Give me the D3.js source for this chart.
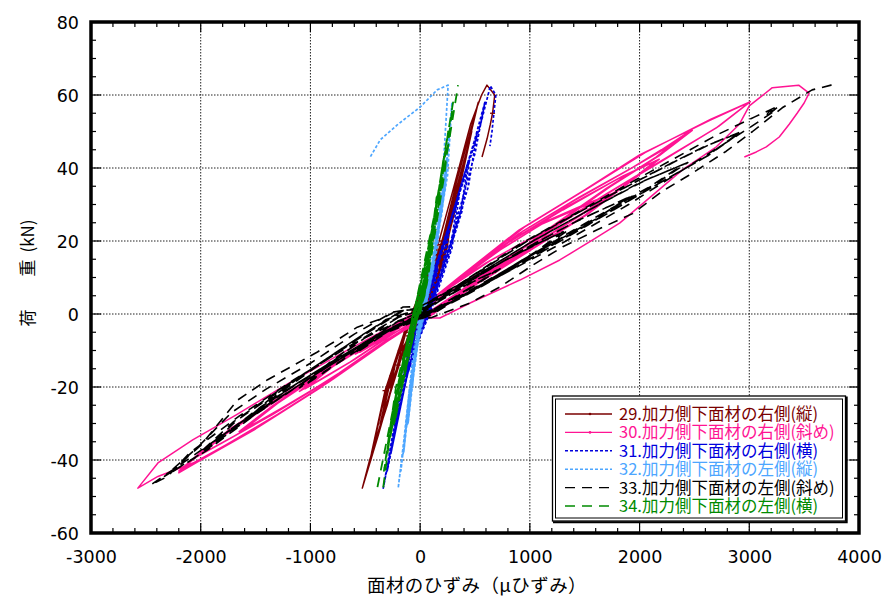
<!DOCTYPE html>
<html><head><meta charset="utf-8">
<script src="https://cdn.jsdelivr.net/npm/d3@7"></script>
<style>body{margin:0;background:#fff}svg{display:block}</style>
</head><body>
<script>
// ---------- data ----------
const xTickValues = [-3000,-2000,-1000,0,1000,2000,3000,4000];
const yTickValues = [-60,-40,-20,0,20,40,60,80];
const xTitle = "面材のひずみ（μひずみ）";
const yTitleParts = ["荷", "重", "(kN)"];
const seriesNames = [
  "29.加力側下面材の右側(縦)",
  "30.加力側下面材の右側(斜め)",
  "31.加力側下面材の右側(横)",
  "32.加力側下面材の左側(縦)",
  "33.加力側下面材の左側(斜め)",
  "34.加力側下面材の左側(横)"
];
// [strain (μ), load (kN)]
const s29 = [[0,0],[70,6],[125,12],[95,6],[20,0],[-60,-4],[-180,-10.5],[-130,-5],[-50,0],
 [60,6],[130,12.3],[100,6],[20,0],[-70,-4.5],[-185,-10.8],[-130,-5],[-40,0],
 [100,11],[225,22.5],[170,12],[40,0],[-110,-6],[-270,-20],[-200,-10],[-60,0],
 [110,11.5],[230,22.8],[175,12],[40,0],[-120,-7],[-275,-20.2],[-200,-10],[-50,0],
 [150,14],[310,32],[240,18],[60,0],[-130,-8],[-360,-30],[-260,-17],[-80,0],
 [160,15],[315,32.3],[245,18],[60,0],[-140,-9],[-365,-30.2],[-260,-16],[-70,0],
 [180,18],[400,42],[310,28],[90,2],[-140,-9],[-440,-38],[-320,-22],[-110,-2],
 [190,19],[405,42.3],[315,28],[90,1],[-150,-10],[-445,-38.3],[-320,-21],[-100,-1],
 [180,16],[340,35],[470,50],[370,36],[150,12],[-60,-2],[-260,-20],[-480,-43],[-350,-26],[-150,-6],
 [200,20],[330,36],[530,58],[420,44],[220,20],[0,0],[-200,-14],[-380,-33],[-527,-47.7],[-460,-40],[-300,-25],[-118,-3.6],
 [100,12],[300,34],[460,52],[560,60],[609,62.7],[680,60],[660,55],[640,52],[610,48],[564,43]];
const s30 = [[0,0],[150,4],[350,8],[600,12],[450,8],[250,4],[50,0],[-150,-3],[-350,-7],[-550,-10.5],[-400,-7.5],[-200,-3.5],[0,0.5],
 [180,4.6],[400,9],[640,12.5],[470,8.3],[260,4.1],[60,0.1],[-170,-3.4],[-380,-7.5],[-590,-11],[-420,-7.6],[-210,-3.3],[10,0.4],
 [250,7],[600,14],[900,19],[1150,22.5],[950,17],[650,11],[300,4.5],[50,0],[-250,-5.5],[-600,-12.5],[-850,-17],[-1050,-20.5],[-800,-14.5],[-450,-8],[-150,-2],[50,1],
 [280,7.4],[640,14.6],[950,19.8],[1200,23],[980,17.4],[680,11.2],[320,4.6],[60,-0.2],[-270,-5.8],[-640,-13.2],[-900,-17.8],[-1100,-21.2],[-840,-15],[-470,-8.2],[-160,-2.1],[40,0.8],
 [300,8],[700,17],[1100,24.5],[1450,29],[1750,33],[1500,27],[1100,19.5],[650,11],[250,3.5],[50,-0.5],[-300,-7],[-700,-15.5],[-1100,-23],[-1450,-29],[-1600,-31.5],[-1300,-24.5],[-900,-16.5],[-500,-8.5],[-150,-1.5],[50,1],
 [320,8.6],[740,17.8],[1150,25.4],[1500,30],[1800,33.6],[1540,27.6],[1130,19.8],[670,11.1],[260,3.4],[60,-0.6],[-320,-7.4],[-740,-16.2],[-1150,-24],[-1500,-30],[-1650,-32.2],[-1340,-25],[-930,-16.8],[-520,-8.7],[-160,-1.6],[40,0.9],
 [300,8.5],[800,19.5],[1300,28.5],[1800,37],[2150,42],[1850,35],[1400,26],[900,16.5],[400,6],[80,-0.5],[-300,-7],[-800,-17.5],[-1300,-26.5],[-1700,-33.5],[-2000,-38.5],[-1700,-31],[-1200,-21.5],[-700,-12],[-250,-3.5],[50,1],
 [320,9],[840,20.4],[1350,29.6],[1850,37.8],[2180,42.4],[1880,35.4],[1430,26.4],[920,16.7],[420,6.2],[90,-0.6],[-320,-7.4],[-840,-18.3],[-1350,-27.6],[-1750,-34.4],[-2040,-39.2],[-1730,-31.4],[-1230,-21.8],[-720,-12.2],[-260,-3.6],[40,0.9],
 [350,9.5],[900,22],[1400,31],[1900,39.5],[2200,45],[2450,50],[2150,43],[1700,34.5],[1200,24],[700,13],[250,3.5],[50,-0.5],[-300,-7.5],[-800,-18],[-1300,-27.5],[-1750,-35.5],[-2180,-42.7],[-1900,-35.5],[-1400,-25.5],[-900,-16],[-400,-6.5],[-50,0.5],
 [370,10],[940,22.8],[1450,32],[1950,40.4],[2250,45.6],[2480,50.3],[2180,43.4],[1730,34.8],[1230,24.3],[720,13.2],[260,3.4],[60,-0.6],[-320,-7.8],[-830,-18.6],[-1340,-28.3],[-1790,-36.2],[-2200,-43],[-1920,-35.8],[-1420,-25.8],[-920,-16.2],[-410,-6.6],[-40,0.5],
 [350,10],[900,23],[1500,34],[2000,43.6],[2636,53],[3000,58],[2700,51],[2200,42],[1700,33],[1200,23.5],[600,11.5],[150,1.5],[-300,-7.5],[-900,-20],[-1500,-31.5],[-2000,-40],[-2200,-43.5],[-1950,-36.5],[-1450,-26.5],[-950,-17],[-450,-7.2],[-60,0.3],
 [380,10.4],[950,23.8],[1550,34.8],[2050,44.2],[2650,53.4],[3010,58.2],[2720,51.4],[2230,42.4],[1730,33.4],[1230,23.8],[620,11.6],[160,1.4],[-300,-7.5],[-900,-20],[-1500,-31.5],[-2000,-40],[-2390,-44.5],[-2573,-47.7],[-2390,-40.8],[-2073,-34.5],[-1680,-27.7],[-1200,-19],[-700,-10.5],[-300,-4],[-50,-1],
 [180,-1.1],[455,3],[909,9.3],[1273,14.8],[1573,20.3],[1818,24.9],[2090,31.8],[2390,39.5],[2700,45.8],[2910,52],[3000,57],[3210,62],[3450,62.7],[3545,60.5],[3500,57.8],[3436,55],[3364,52],[3273,48.5],[3155,45.8],[3064,44.4],[2955,43]];
const s31 = [[0,0],[80,6],[150,12],[110,6],[40,0],[-30,-5],[-75,-10.5],[-40,-5],[20,0],
 [90,6],[160,12.3],[120,6],[40,0],[-35,-5],[-80,-10.8],[-40,-5],[20,0],
 [130,11],[250,22.5],[200,12],[70,0],[-60,-9],[-140,-20],[-90,-10],[10,0],
 [140,11.5],[265,22.8],[205,12],[70,0],[-65,-9.5],[-145,-20.2],[-95,-10],[10,0],
 [150,13],[340,32],[280,18],[100,2],[-30,-8],[-120,-17],[-215,-30],[-150,-18],[-20,0],
 [160,14],[355,32.3],[290,18],[100,1],[-40,-9],[-130,-18],[-220,-30.2],[-150,-17],[-20,0],
 [200,18],[440,42],[370,28],[180,10],[30,-1],[-100,-14],[-265,-38],[-180,-22],[-30,0],
 [210,19],[450,42.3],[380,28],[180,9],[30,-2],[-110,-15],[-270,-38.3],[-180,-21],[-30,0],
 [200,18],[390,37],[520,50],[440,35],[230,14],[40,-1],[-120,-17],[-300,-43],[-210,-26],[-50,-1],
 [180,16],[400,37],[590,58],[500,44],[280,20],[60,0],[-120,-17],[-240,-33],[-336,-47.7],[-250,-33],[-80,-6],
 [150,14],[380,35],[560,53],[640,62.5],[690,60],[672,55],[655,50],[636,46]];
const s32 = [[0,0],[50,6],[95,12],[70,6],[15,0],[-20,-5],[-40,-10.5],[-20,-5],[25,0],
 [55,6],[100,12.3],[75,6],[15,0],[-20,-5],[-45,-10.8],[-20,-5],[25,0],
 [95,11],[150,22.5],[115,12],[35,0],[-40,-9],[-70,-20],[-40,-10],[25,0],
 [100,11.5],[160,22.8],[120,12],[35,0],[-40,-9.5],[-75,-20.2],[-40,-10],[25,0],
 [120,14],[195,32],[150,18],[45,2],[-20,-8],[-60,-17],[-110,-30],[-70,-18],[15,0],
 [125,15],[205,32.3],[155,18],[45,1],[-25,-9],[-65,-18],[-115,-30.2],[-70,-17],[15,0],
 [140,18],[240,42],[195,28],[90,10],[0,-1],[-60,-14],[-150,-38],[-100,-22],[5,0],
 [145,19],[250,42.3],[200,28],[90,9],[0,-2],[-65,-15],[-155,-38.3],[-100,-21],[5,0],
 [140,18],[230,35],[265,50],[225,38],[125,16],[15,0],[-80,-17],[-175,-43],[-120,-28],[-20,-2],
 [140,18],[250,38],[290,58],[255,45],[150,20],[25,0],[-70,-17],[-140,-33],[-200,-47.7],[-150,-35],[-60,-10],
 [70,10],[200,35],[255,62.7],[155,61.4],[0,56.7],[-209,51.8],[-364,47.7],[-455,43]];
const s33 = [[0,0],[200,4],[450,8.5],[700,12],[500,8],[250,3.5],[50,0],[-200,-3],[-400,-7],[-550,-10],[-400,-6],[-200,-2],[0,0.5],
 [220,4.3],[480,8.8],[730,12.4],[520,8.2],[270,3.6],[60,-0.1],[-220,-3.3],[-430,-7.3],[-580,-10.4],[-420,-6.2],[-210,-2],[10,0.5],
 [300,6.5],[700,13.5],[1050,19],[1300,22.5],[1050,17],[700,10.5],[350,4.5],[50,0],[-250,-4],[-600,-10.5],[-850,-15.5],[-1050,-19.5],[-800,-13],[-500,-6.5],[-200,-1],[0,1],
 [320,6.8],[740,14.1],[1100,19.7],[1350,23],[1080,17.3],[720,10.6],[360,4.4],[60,-0.2],[-270,-4.3],[-640,-11.2],[-900,-16.3],[-1100,-20.2],[-830,-13.4],[-520,-6.6],[-210,-1],[10,1],
 [400,8],[900,17],[1400,25],[1900,32],[1600,26],[1100,17.5],[600,9],[200,2],[0,0],[-350,-5],[-800,-13],[-1200,-20.5],[-1550,-28.5],[-1300,-22],[-900,-13.5],[-500,-5.5],[-150,1],[50,1.5],
 [420,8.4],[940,17.7],[1450,25.8],[1950,32.6],[1640,26.5],[1130,17.8],[620,9.1],[210,2],[10,-0.1],[-370,-5.4],[-840,-13.7],[-1250,-21.4],[-1600,-29.3],[-1340,-22.5],[-930,-13.8],[-520,-5.6],[-160,1],[40,1.4],
 [400,8.5],[1000,19.5],[1600,29.5],[2000,36],[2400,41],[2100,35],[1600,26.5],[1000,16],[500,7],[100,0],[-350,-5.5],[-900,-15],[-1400,-24.5],[-1950,-37],[-1664,-29],[-1300,-21.5],[-800,-11.5],[-300,-1.5],[0,1.5],
 [420,8.9],[1040,20.2],[1650,30.3],[2050,36.6],[2440,41.5],[2130,35.4],[1630,26.8],[1020,16.2],[510,7.1],[110,-0.1],[-370,-5.9],[-940,-15.7],[-1450,-25.4],[-2000,-37.8],[-1700,-29.5],[-1330,-21.8],[-820,-11.6],[-310,-1.5],[10,1.5],
 [400,9],[1000,20.5],[1700,32],[2300,41.5],[2600,46],[2900,49.5],[2600,43],[2100,34.5],[1500,24],[900,13.5],[400,5],[50,-0.5],[-300,-4.5],[-900,-15.5],[-1500,-27.5],[-1950,-37.5],[-2300,-44],[-2000,-36],[-1664,-23.6],[-1390,-18],[-1180,-14.5],[-936,-10.4],[-755,-7.1],[-573,-3.6],[-336,-1.1],[-155,1.9],[0,2],
 [420,9.3],[1040,21.2],[1750,32.8],[2350,42.2],[2650,46.6],[2930,50],[2630,43.5],[2130,35],[1530,24.4],[920,13.7],[410,5],[60,-0.6],[-320,-4.9],[-940,-16.2],[-1550,-28.4],[-2000,-38.3],[-2330,-44.5],[-2030,-36.6],[-1720,-27],[-1400,-20.5],[-1000,-13.5],[-600,-5.5],[-250,0.5],[-20,1.6],
 [300,7],[900,19],[1500,29],[2100,39],[2700,49],[3050,54],[3270,57],[3150,54],[3180,55.5],[3250,56],[3000,51],[2500,41.5],[1900,30],[1300,19.5],[700,10],[200,2],[0,-0.5],[-400,-6],[-1000,-17.5],[-1600,-29],[-2100,-39.5],[-2455,-46.8],[-2300,-44.5],[-2100,-38],[-1650,-28],[-1150,-18],[-600,-8],[-200,-2],[100,-1],
 [455,3],[727,7.4],[1027,13.4],[1300,18.4],[1609,23],[1936,27.5],[2200,33.5],[2450,38],[2790,44.6],[3030,50],[3300,56.5],[3573,61.4],[3745,62.7],[3720,62.3]];
const s34 = [[0,0],[40,6],[55,12],[20,6],[-30,0],[-70,-5],[-95,-10.5],[-60,-5],[-10,0.5],
 [45,6],[60,12.3],[25,6],[-30,0],[-75,-5],[-100,-10.8],[-60,-5],[-10,0.5],
 [60,11],[100,22.5],[50,12],[-20,0],[-90,-10],[-165,-20],[-110,-10],[-30,0],
 [65,11.5],[105,22.8],[55,12],[-20,0],[-95,-10.5],[-170,-20.2],[-110,-10],[-30,0],
 [80,15],[150,32],[100,20],[20,5],[-40,-2],[-130,-15],[-235,-30],[-160,-15],[-40,0],
 [85,16],[155,32.3],[105,20],[20,4],[-45,-3],[-135,-16],[-240,-30.2],[-160,-14],[-40,0],
 [100,20],[210,42],[150,28],[40,6],[-50,-3],[-170,-18],[-300,-38],[-200,-20],[-50,0],
 [105,21],[215,42.3],[155,28],[40,5],[-55,-4],[-175,-19],[-305,-38.3],[-200,-19],[-50,0],
 [120,25],[255,50],[180,32],[50,8],[-60,-4],[-200,-20],[-330,-43],[-220,-20],[-60,0],
 [150,30],[300,58],[220,38],[60,8],[-70,-6],[-220,-22],[-391,-47.7],[-336,-47.4],[-240,-25],[-80,-2],
 [100,20],[250,45],[336,60.8],[345,62.7]];
const seriesData = [s29, s30, s31, s32, s33, s34];

// ---------- styles ----------
const styles = [
  {color:"#7a0000", dash:null, width:1.5, dot:true, markEvery:6},
  {color:"#ff1493", dash:null, width:1.5, dot:true, markEvery:0},
  {color:"#0000dd", dash:"3,2", width:1.7, dot:false, markEvery:0},
  {color:"#4da6ff", dash:"3,2", width:1.7, dot:false, markEvery:0},
  {color:"#000000", dash:"10,7", width:1.6, dot:false, markEvery:0},
  {color:"#008a00", dash:"10,7", width:1.8, dot:false, markEvery:0}
];

const W = 884, H = 596;
const L = 91, R = 859, T = 22, B = 533;
const svg = d3.select("body").append("svg").attr("width", W).attr("height", H);

const x = d3.scaleLinear().domain([-3000, 4000]).range([L, R]);
const y = d3.scaleLinear().domain([-60, 80]).range([B, T]);

// grid
const grid = svg.append("g");
grid.selectAll("line.gx").data(xTickValues.slice(1, -1)).enter().append("line")
  .attr("x1", d => x(d)).attr("x2", d => x(d)).attr("y1", T).attr("y2", B)
  .attr("stroke", "#222").attr("stroke-width", 1).attr("stroke-dasharray", "1.5,1.5");
grid.selectAll("line.gy").data(yTickValues.slice(1, -1)).enter().append("line")
  .attr("y1", d => y(d)).attr("y2", d => y(d)).attr("x1", L).attr("x2", R)
  .attr("stroke", "#222").attr("stroke-width", 1).attr("stroke-dasharray", "1.5,1.5");

// clip
svg.append("clipPath").attr("id", "clip").append("rect")
  .attr("x", L).attr("y", T).attr("width", R - L).attr("height", B - T);

const line = d3.line().x(d => x(d[0])).y(d => y(d[1]));
const plot = svg.append("g").attr("clip-path", "url(#clip)");
seriesData.forEach((data, i) => {
  const st = styles[i];
  plot.append("path").datum(data).attr("d", line)
    .attr("fill", "none").attr("stroke", st.color).attr("stroke-width", st.width)
    .attr("stroke-linejoin", "round")
    .attr("stroke-dasharray", st.dash);
  if (st.markEvery) {
    plot.selectAll(null).data(data.filter((d, k) => k % st.markEvery === 3)).enter().append("line")
      .attr("x1", d => x(d[0]) - 2.5).attr("x2", d => x(d[0]) + 2.5)
      .attr("y1", d => y(d[1])).attr("y2", d => y(d[1]))
      .attr("stroke", st.color).attr("stroke-width", 1.3);
  }
});

// axes with inward ticks
const xMinor = d3.range(-3000, 4001, 200);
const yMinor = d3.range(-60, 81, 5);
function tickLen(isMajor) { return isMajor ? 10 : 5; }
const axG = svg.append("g").attr("stroke", "#000").attr("stroke-width", 1.2);
xMinor.forEach(v => {
  const maj = v % 1000 === 0;
  axG.append("line").attr("x1", x(v)).attr("x2", x(v)).attr("y1", B).attr("y2", B - tickLen(maj));
  axG.append("line").attr("x1", x(v)).attr("x2", x(v)).attr("y1", T).attr("y2", T + tickLen(maj));
});
yMinor.forEach(v => {
  const maj = v % 20 === 0;
  axG.append("line").attr("y1", y(v)).attr("y2", y(v)).attr("x1", L).attr("x2", L + tickLen(maj));
  axG.append("line").attr("y1", y(v)).attr("y2", y(v)).attr("x1", R).attr("x2", R - tickLen(maj));
});
svg.append("rect").attr("x", L).attr("y", T).attr("width", R - L).attr("height", B - T)
  .attr("fill", "none").attr("stroke", "#000").attr("stroke-width", 3.5);

// tick labels via d3 axes (labels only)
const xAxis = d3.axisBottom(x).tickValues(xTickValues).tickSize(0).tickPadding(0).tickFormat(d => String(d));
const gx = svg.append("g").attr("transform", `translate(0,${B})`).call(xAxis);
gx.select(".domain").remove();
gx.selectAll("text").attr("y", 18).attr("dy", "0.71em")
  .attr("font-family", "DejaVu Sans, sans-serif").attr("font-size", 17.5).attr("fill", "#000");
const yAxis = d3.axisLeft(y).tickValues(yTickValues).tickSize(0).tickPadding(0).tickFormat(d => String(d));
const gy = svg.append("g").attr("transform", `translate(${L},0)`).call(yAxis);
gy.select(".domain").remove();
gy.selectAll("text").attr("x", -12).attr("dy", "0.36em")
  .attr("font-family", "DejaVu Sans, sans-serif").attr("font-size", 17.5).attr("fill", "#000");

// titles
svg.append("text").attr("x", (L + R) / 2 + 2).attr("y", 592)
  .attr("text-anchor", "middle").attr("font-family", "Noto Sans CJK JP, sans-serif")
  .attr("font-size", 18.5).attr("letter-spacing", 0.4).text(xTitle);
const yTitlePos = [318, 268, 236];
yTitleParts.forEach((t, i) => {
  svg.append("text").attr("transform", `translate(34,${yTitlePos[i]}) rotate(-90)`)
    .attr("text-anchor", "middle").attr("font-family", "Noto Sans CJK JP, sans-serif")
    .attr("font-size", 17).text(t);
});

// legend
const lg = svg.append("g");
lg.append("rect").attr("x", 552.5).attr("y", 396).attr("width", 293).attr("height", 125)
  .attr("fill", "#fff").attr("stroke", "#000").attr("stroke-width", 1.3);
lg.append("rect").attr("x", 555.5).attr("y", 399).attr("width", 287).attr("height", 119)
  .attr("fill", "none").attr("stroke", "#000").attr("stroke-width", 1);
lg.append("path").attr("d", "M553,522.3 H846.7 V396.5").attr("fill", "none").attr("stroke", "#000").attr("stroke-width", 2);
const rowY = d3.scaleLinear().domain([0, 5]).range([414, 506]);
seriesNames.forEach((name, i) => {
  const st = styles[i];
  const yy = rowY(i);
  lg.append("line").attr("x1", 565).attr("x2", 612).attr("y1", yy).attr("y2", yy)
    .attr("stroke", st.color).attr("stroke-width", 1.4).attr("stroke-dasharray", st.dash);
  if (st.dot) lg.append("circle").attr("cx", 590).attr("cy", yy).attr("r", 1.3).attr("fill", st.color);
  lg.append("text").attr("x", 619).attr("y", yy).attr("dy", "0.36em")
    .attr("font-family", "Noto Sans CJK JP, sans-serif").attr("font-size", 16.5)
    .attr("fill", st.color).text(name);
});
</script>
</body></html>
